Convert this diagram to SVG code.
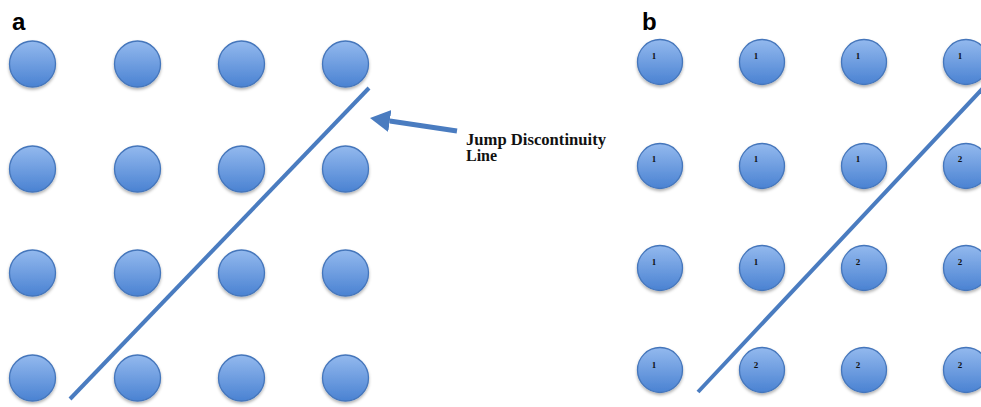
<svg xmlns="http://www.w3.org/2000/svg" width="981" height="407" viewBox="0 0 981 407">
  <defs>
    <linearGradient id="ball" x1="0" y1="0" x2="0" y2="1">
      <stop offset="0" stop-color="#93b9ee"/>
      <stop offset="1" stop-color="#4a82d2"/>
    </linearGradient>
    <filter id="shadow" x="-30%" y="-30%" width="160%" height="170%">
      <feDropShadow dx="0" dy="2" stdDeviation="1.6" flood-color="#000" flood-opacity="0.3"/>
    </filter>
    <marker id="head" markerUnits="userSpaceOnUse" markerWidth="22" markerHeight="24" refX="0" refY="11" orient="auto">
      <path d="M0,0 L20,11 L0,22 z" fill="#4a7cc0"/>
    </marker>
  </defs>
  <style>
    .node circle { fill: url(#ball); stroke: #4576bb; stroke-width: 1.3; filter: url(#shadow); }
    .num { font-family: "Liberation Serif", serif; font-weight: bold; font-size: 9px; fill: #111; text-anchor: middle; }
    .panel { font-family: "Liberation Sans", Arial, sans-serif; font-weight: bold; font-size: 24px; fill: #000; }
    .lbl { font-family: "Liberation Serif", serif; font-weight: bold; font-size: 16px; fill: #111; }
    .disc { stroke: #4a7cc0; stroke-width: 4; fill: none; stroke-linecap: butt; }
  </style>
  <rect width="981" height="407" fill="#fff"/>

  <text class="panel" x="12" y="30">a</text>
  <text class="panel" x="642" y="30">b</text>

  <!-- Panel a nodes -->
  <g id="a-r1c1" class="node"><circle cx="32.5" cy="64" r="23"/></g>
  <g id="a-r1c2" class="node"><circle cx="137.5" cy="64" r="23"/></g>
  <g id="a-r1c3" class="node"><circle cx="241.5" cy="64" r="23"/></g>
  <g id="a-r1c4" class="node"><circle cx="345.5" cy="64" r="23"/></g>
  <g id="a-r2c1" class="node"><circle cx="32.5" cy="169" r="23"/></g>
  <g id="a-r2c2" class="node"><circle cx="137.5" cy="169" r="23"/></g>
  <g id="a-r2c3" class="node"><circle cx="241.5" cy="169" r="23"/></g>
  <g id="a-r2c4" class="node"><circle cx="345.5" cy="169" r="23"/></g>
  <g id="a-r3c1" class="node"><circle cx="32.5" cy="273" r="23"/></g>
  <g id="a-r3c2" class="node"><circle cx="137.5" cy="273" r="23"/></g>
  <g id="a-r3c3" class="node"><circle cx="241.5" cy="273" r="23"/></g>
  <g id="a-r3c4" class="node"><circle cx="345.5" cy="273" r="23"/></g>
  <g id="a-r4c1" class="node"><circle cx="32.5" cy="378" r="23"/></g>
  <g id="a-r4c2" class="node"><circle cx="137.5" cy="378" r="23"/></g>
  <g id="a-r4c3" class="node"><circle cx="241.5" cy="378" r="23"/></g>
  <g id="a-r4c4" class="node"><circle cx="345.5" cy="378" r="23"/></g>

  <!-- Panel b nodes -->
  <g id="b-r1c1" class="node"><circle cx="660" cy="62" r="22.5"/><text class="num" x="654" y="59">1</text></g>
  <g id="b-r1c2" class="node"><circle cx="762" cy="62" r="22.5"/><text class="num" x="756" y="59">1</text></g>
  <g id="b-r1c3" class="node"><circle cx="864" cy="62" r="22.5"/><text class="num" x="858" y="59">1</text></g>
  <g id="b-r1c4" class="node"><circle cx="966" cy="62" r="22.5"/><text class="num" x="960" y="59">1</text></g>
  <g id="b-r2c1" class="node"><circle cx="660" cy="166" r="22.5"/><text class="num" x="654" y="162">1</text></g>
  <g id="b-r2c2" class="node"><circle cx="762" cy="166" r="22.5"/><text class="num" x="756" y="162">1</text></g>
  <g id="b-r2c3" class="node"><circle cx="864" cy="166" r="22.5"/><text class="num" x="858" y="162">1</text></g>
  <g id="b-r2c4" class="node"><circle cx="966" cy="166" r="22.5"/><text class="num" x="960" y="162">2</text></g>
  <g id="b-r3c1" class="node"><circle cx="660" cy="268" r="22.5"/><text class="num" x="654" y="265">1</text></g>
  <g id="b-r3c2" class="node"><circle cx="762" cy="268" r="22.5"/><text class="num" x="756" y="265">1</text></g>
  <g id="b-r3c3" class="node"><circle cx="864" cy="268" r="22.5"/><text class="num" x="858" y="265">2</text></g>
  <g id="b-r3c4" class="node"><circle cx="966" cy="268" r="22.5"/><text class="num" x="960" y="265">2</text></g>
  <g id="b-r4c1" class="node"><circle cx="660" cy="370" r="22.5"/><text class="num" x="654" y="368">1</text></g>
  <g id="b-r4c2" class="node"><circle cx="762" cy="370" r="22.5"/><text class="num" x="756" y="368">2</text></g>
  <g id="b-r4c3" class="node"><circle cx="864" cy="370" r="22.5"/><text class="num" x="858" y="368">2</text></g>
  <g id="b-r4c4" class="node"><circle cx="966" cy="370" r="22.5"/><text class="num" x="960" y="368">2</text></g>

  <!-- Connectors / lines -->
  <g id="connectors">
    <line class="disc" x1="70" y1="399" x2="369" y2="88"/>
    <line class="disc" x1="698" y1="392" x2="985" y2="86"/>
    <line x1="457" y1="131" x2="389.8" y2="121" stroke="#4a7cc0" stroke-width="5" marker-end="url(#head)"/>
  </g>

  <g id="label">
    <text class="lbl" x="466" y="145" textLength="140" lengthAdjust="spacingAndGlyphs">Jump Discontinuity</text>
    <text class="lbl" x="466" y="161">Line</text>
  </g>
</svg>
